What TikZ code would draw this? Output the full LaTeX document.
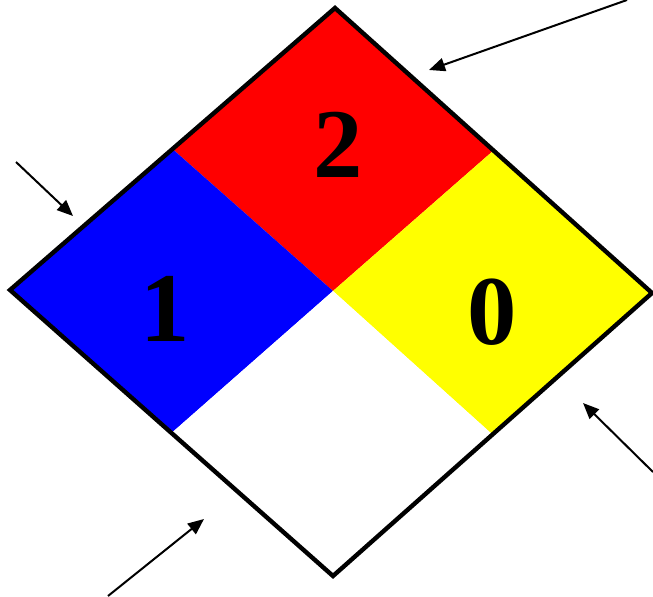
\documentclass[tikz,border=0pt]{standalone}
\usepackage{fontspec}
\setmainfont{Liberation Serif}
\usetikzlibrary{arrows.meta,calc}
\definecolor{firered}{RGB}{255,0,0}
\definecolor{healthblue}{RGB}{0,0,255}
\definecolor{reactyellow}{RGB}{255,255,0}

\begin{document}
\begin{tikzpicture}[x=0.75pt,y=-0.75pt,>={Triangle[length=12pt,width=10pt]},
  num/.style={inner sep=0pt,font=\bfseries\fontsize{74}{74}\selectfont}]
  \useasboundingbox (0,0) rectangle (653,596);
  % corners of the diamond
  \coordinate (top) at (335,8);
  \coordinate (left) at (10,290);
  \coordinate (right) at (652,293);
  \coordinate (bottom) at (333,576);
  \coordinate (mid) at (333,291);
  \coordinate (tl) at ($(top)!0.5!(left)$);
  \coordinate (tr) at ($(top)!0.5!(right)$);
  \coordinate (bl) at ($(bottom)!0.5!(left)$);
  \coordinate (br) at ($(bottom)!0.5!(right)$);
  \fill[firered] (top) -- (tr) -- (mid) -- (tl) -- cycle;
  \fill[healthblue] (left) -- (tl) -- (mid) -- (bl) -- cycle;
  \fill[reactyellow] (right) -- (tr) -- (mid) -- (br) -- cycle;
  \fill[white] (bottom) -- (bl) -- (mid) -- (br) -- cycle;
  \draw[line width=3.3pt,line join=miter] (top) -- (right) -- (bottom) -- (left) -- cycle;
  \node[num] (health) at (165,309) {1};
  \node[num] (fire) at (338,145) {2};
  \node[num] (react) at (492,312) {0};
  % pointers
  \coordinate (p1) at (627,0);
  \coordinate (q1) at (429,70);
  \coordinate (p2) at (16,162);
  \coordinate (q2) at (73,216);
  \coordinate (p3) at (653,472);
  \coordinate (q3) at (583,403);
  \coordinate (p4) at (108,596);
  \coordinate (q4) at (204,519);
  \draw[->,line width=1.5pt] (p1) -- (q1);
  \draw[->,line width=1.5pt] (p2) -- (q2);
  \draw[->,line width=1.5pt] (p3) -- (q3);
  \draw[->,line width=1.5pt] (p4) -- (q4);
\end{tikzpicture}
\end{document}
